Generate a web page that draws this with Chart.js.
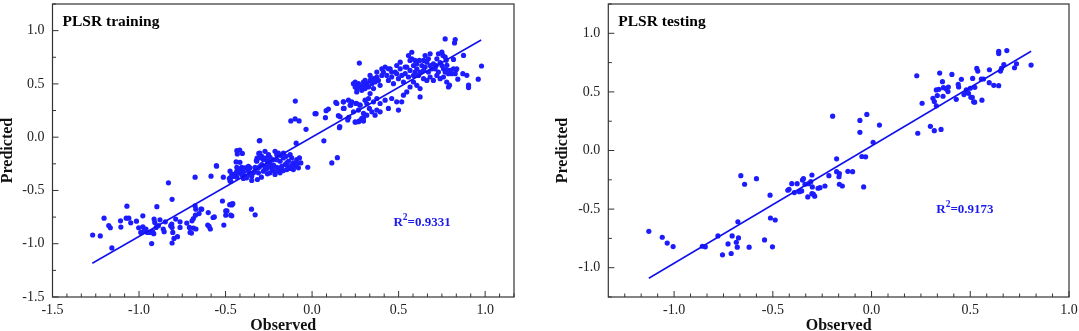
<!DOCTYPE html>
<html>
<head>
<meta charset="utf-8">
<title>PLSR training / testing</title>
<script src="https://cdn.jsdelivr.net/npm/chart.js@4.4.1/dist/chart.umd.min.js"></script>
<style>
  html, body { margin: 0; padding: 0; background: #fff; }
  #wrap { position: relative; width: 1079px; height: 331px; }
  .panel { position: absolute; top: 0; height: 331px; }
  #p1 { left: 0; width: 530px; }
  #p2 { left: 530px; width: 549px; }
</style>
</head>
<body>
<div id="wrap">
  <div class="panel" id="p1"><canvas id="trainChart"></canvas></div>
  <div class="panel" id="p2"><canvas id="testChart"></canvas></div>
</div>
<script>
// ---- data: [observed, predicted] ----
const trainPoints = [
  // low cluster
  [-1.268,-0.918],[-1.224,-0.927],[-1.202,-0.76],[-1.175,-0.829],[-1.166,-0.85],[-1.157,-1.039],
  [-1.107,-0.785],[-1.105,-0.844],[-1.07,-0.648],[-1.074,-0.76],[-1.059,-0.76],[-1.048,-0.804],
  [-1.015,-0.788],[-1.002,-0.85],[-0.99,-0.894],[-0.978,-0.738],[-0.978,-0.841],[-0.971,-0.878],
  [-0.96,-0.862],[-0.952,-0.894],[-0.927,-0.999],[-0.936,-0.894],[-0.921,-0.887],[-0.915,-0.906],
  [-0.913,-0.769],[-0.909,-0.8],[-0.897,-0.652],[-0.901,-0.847],[-0.888,-0.831],[-0.879,-0.776],
  [-0.86,-0.862],[-0.855,-0.887],[-0.848,-0.794],[-0.83,-0.428],[-0.817,-0.831],[-0.811,-0.816],
  [-0.809,-0.583],[-0.809,-0.847],[-0.809,-0.993],[-0.805,-0.894],[-0.798,-0.95],[-0.788,-0.769],
  [-0.778,-0.934],[-0.763,-0.794],[-0.763,-0.847],[-0.724,-0.806],[-0.709,-0.847],[-0.705,-0.894],
  [-0.697,-0.9],[-0.694,-0.785],[-0.686,-0.763],[-0.686,-0.853],[-0.676,-0.375],[-0.676,-0.645],
  [-0.672,-0.676],[-0.674,-0.732],[-0.671,-0.862],[-0.653,-0.717],[-0.642,-0.676],[-0.603,-0.825],
  [-0.595,-0.838],[-0.588,-0.862],[-0.572,-0.754],[-0.518,-0.599],[-0.51,-0.825],[-0.499,-0.692],
  [-0.499,-0.732],[-0.476,-0.633],[-0.467,-0.627],[-0.47,-0.732],[-0.474,-0.412],[-0.474,-0.382],
  [-0.513,-0.375],[-0.584,-0.366],[-0.35,-0.676],[-0.329,-0.729],[-0.552,-0.273],[-0.6,-0.708],
  [-0.565,-0.748],[-0.638,-0.676],[-0.464,-0.636],[-0.458,-0.624],[-0.492,-0.692],[-0.464,-0.738],
  // middle cluster
  [-0.304,-0.195],[-0.291,-0.257],[-0.272,-0.273],[-0.258,-0.226],[-0.243,-0.242],[-0.227,-0.211],
  [-0.204,-0.164],[-0.195,-0.149],[-0.185,-0.226],[-0.166,-0.195],[-0.15,-0.18],[-0.137,-0.226],
  [-0.127,-0.164],[-0.118,-0.195],[-0.108,-0.242],[-0.098,-0.273],[-0.089,-0.211],[-0.073,-0.195],
  [-0.065,-0.242],[-0.079,-0.288],[-0.108,-0.304],[-0.146,-0.304],[-0.185,-0.335],[-0.214,-0.35],
  [-0.258,-0.344],[-0.281,-0.319],[-0.31,-0.335],[-0.339,-0.335],[-0.368,-0.319],[-0.397,-0.326],
  [-0.426,-0.335],[-0.435,-0.319],[-0.445,-0.344],[-0.455,-0.369],[-0.378,-0.381],[-0.349,-0.366],
  [-0.316,-0.397],[-0.293,-0.375],[-0.243,-0.335],[-0.407,-0.35],[-0.416,-0.304],[-0.387,-0.288],
  [-0.358,-0.288],[-0.329,-0.282],[-0.3,-0.273],[-0.272,-0.304],[-0.233,-0.295],[-0.204,-0.282],
  [-0.175,-0.273],[-0.156,-0.257],[-0.137,-0.282],[-0.387,-0.366],[-0.358,-0.35],[-0.329,-0.319],
  [-0.368,-0.273],[-0.406,-0.282],[-0.426,-0.295],[-0.262,-0.295],[-0.223,-0.313],[-0.195,-0.319],
  [-0.166,-0.313],[-0.474,-0.319],[-0.464,-0.35],[-0.435,-0.375],[-0.397,-0.388],[-0.349,-0.406],
  [-0.31,-0.288],[-0.252,-0.273],[-0.223,-0.263],[-0.185,-0.288],[-0.146,-0.242],[-0.118,-0.264],
  [-0.089,-0.251],[-0.185,-0.17],[-0.166,-0.149],[-0.204,-0.211],[-0.243,-0.189],[-0.281,-0.211],
  [-0.32,-0.226],[-0.291,-0.18],[-0.252,-0.164],[-0.214,-0.133],[-0.272,-0.133],
  [-0.435,-0.127],[-0.432,-0.158],[-0.417,-0.236],[-0.305,-0.034],[-0.302,-0.149],[-0.318,-0.196],
  [-0.322,-0.22],[-0.27,-0.196],[-0.553,-0.266],[-0.478,-0.388],[-0.47,-0.413],[-0.439,-0.232],
  [-0.435,-0.282],[-0.418,-0.121],[-0.403,-0.152],[-0.302,-0.031],[-0.308,-0.152],
  [-0.092,-0.056],[0.068,-0.034],[0.146,-0.192],[0.114,-0.242],[-0.025,-0.282],[-0.127,-0.294],
  // transition
  [-0.097,0.339],[-0.123,0.153],[-0.098,0.171],[-0.075,0.153],[-0.035,0.074],[0.017,0.221],
  [0.023,0.221],[0.081,0.249],[0.094,0.264],[0.077,0.183],[0.137,0.326],[0.152,0.202],
  [0.16,0.1],[0.181,0.332],[0.185,0.27],[0.206,0.162],[0.212,0.186],[0.25,0.14],[0.273,0.153],
  [0.297,0.177],[0.224,0.302],[0.253,0.317],[0.277,0.302],
  // upper cluster
  [0.74,0.70],[0.717,0.673],[0.721,0.735],[0.701,0.689],[0.692,0.642],[0.682,0.673],[0.672,0.611],
  [0.663,0.704],[0.653,0.658],[0.644,0.627],[0.634,0.673],[0.624,0.611],[0.62,0.72],[0.615,0.58],
  [0.605,0.642],[0.595,0.611],[0.586,0.673],[0.576,0.735],[0.566,0.72],[0.576,0.797],[0.586,0.58],
  [0.566,0.627],[0.557,0.565],[0.547,0.658],[0.538,0.596],[0.528,0.518],[0.518,0.58],[0.509,0.642],
  [0.499,0.549],[0.489,0.673],[0.48,0.611],[0.47,0.502],[0.46,0.565],[0.451,0.642],[0.441,0.533],
  [0.432,0.58],[0.422,0.658],[0.412,0.611],[0.403,0.642],[0.393,0.487],[0.383,0.533],[0.374,0.565],
  [0.364,0.518],[0.355,0.456],[0.345,0.502],[0.335,0.533],[0.326,0.471],[0.316,0.502],[0.306,0.456],
  [0.297,0.487],[0.287,0.44],[0.277,0.471],[0.268,0.502],[0.258,0.456],[0.249,0.518],[0.335,0.409],
  [0.326,0.363],[0.316,0.316],[0.306,0.347],[0.331,0.27],[0.355,0.332],[0.374,0.363],[0.393,0.316],
  [0.422,0.347],[0.441,0.27],[0.46,0.363],[0.489,0.332],[0.499,0.254],[0.518,0.332],[0.528,0.394],
  [0.547,0.425],[0.566,0.471],[0.586,0.518],[0.605,0.487],[0.624,0.456],[0.644,0.549],[0.663,0.533],
  [0.682,0.565],[0.701,0.533],[0.721,0.58],[0.74,0.549],[0.759,0.565],[0.778,0.518],[0.788,0.471],
  [0.624,0.378],[0.22,0.3],[0.239,0.238],[0.268,0.254],[0.277,0.3],[0.297,0.223],[0.287,0.176],
  [0.268,0.145],[0.249,0.145],[0.297,0.151],[0.316,0.207],[0.345,0.238],[0.374,0.254],[0.364,0.207],
  [0.393,0.238],[0.21,0.347],[0.181,0.332],[0.143,0.316],[0.181,0.27],[0.162,0.192],[0.158,0.089],
  [0.229,0.332],[0.258,0.316],[0.239,0.502],[0.249,0.471],[0.258,0.425],[0.297,0.518],[0.306,0.533],
  [0.335,0.58],[0.355,0.549],[0.374,0.611],[0.403,0.58],[0.441,0.642],[0.46,0.611],[0.489,0.596],
  [0.509,0.704],[0.538,0.658],[0.557,0.766],[0.595,0.72],[0.605,0.689],[0.644,0.72],[0.653,0.766],
  [0.672,0.735],[0.682,0.782],[0.711,0.642],[0.73,0.611],[0.75,0.673],[0.759,0.642],[0.769,0.611],
  [0.798,0.627],[0.807,0.596],[0.817,0.642],[0.836,0.642],
  [0.273,0.696],[0.769,0.922],[0.827,0.916],[0.823,0.885],[0.979,0.668],[0.96,0.544],[0.904,0.488],
  [0.904,0.466],[0.894,0.581],[0.871,0.596],[0.875,0.767],[0.842,0.544],[0.817,0.73],[0.832,0.633],
  [0.827,0.596],[0.794,0.488],[0.788,0.596],[0.782,0.628],[0.779,0.674],[0.775,0.721],[0.769,0.751],
  [0.756,0.767],[0.75,0.798],[0.73,0.782]
];

const testPoints = [
  [-1.128,-0.69],[-1.06,-0.74],[-1.035,-0.79],[-1.005,-0.82],[-0.857,-0.817],[-0.842,-0.822],
  [-0.778,-0.729],[-0.755,-0.89],[-0.711,-0.879],[-0.706,-0.729],[-0.727,-0.797],[-0.685,-0.783],
  [-0.68,-0.825],[-0.674,-0.746],[-0.677,-0.608],[-0.662,-0.215],[-0.643,-0.288],[-0.583,-0.24],
  [-0.62,-0.825],[-0.542,-0.763],[-0.502,-0.822],[-0.514,-0.381],[-0.512,-0.576],[-0.488,-0.593],
  [-0.424,-0.339],[-0.418,-0.331],[-0.404,-0.283],[-0.391,-0.359],[-0.377,-0.283],[-0.366,-0.351],
  [-0.354,-0.345],[-0.35,-0.252],[-0.345,-0.24],[-0.337,-0.288],[-0.323,-0.396],[-0.32,-0.283],
  [-0.308,-0.266],[-0.302,-0.209],[-0.3,-0.311],[-0.302,-0.368],[-0.295,-0.373],[-0.288,-0.39],
  [-0.271,-0.322],[-0.261,-0.317],[-0.236,-0.303],[-0.216,-0.215],[-0.177,-0.071],[-0.177,-0.181],
  [-0.163,-0.198],[-0.165,-0.224],[-0.163,-0.288],[-0.148,-0.303],[-0.12,-0.178],[-0.096,-0.181],
  [-0.059,0.155],[-0.049,-0.051],[-0.03,-0.054],[-0.04,-0.311],[0.008,0.07],
  [-0.197,0.293],[-0.059,0.257],[-0.024,0.308],[0.04,0.217],
  [0.229,0.638],[0.256,0.403],[0.234,0.147],[0.298,0.206],[0.318,0.169],[0.352,0.18],
  [0.345,0.661],[0.359,0.587],[0.407,0.649],[0.328,0.517],[0.341,0.522],[0.364,0.536],
  [0.379,0.525],[0.389,0.542],[0.387,0.503],[0.311,0.446],[0.318,0.418],[0.333,0.469],
  [0.362,0.463],[0.328,0.381],[0.429,0.437],[0.439,0.564],[0.441,0.542],[0.455,0.607],
  [0.468,0.477],[0.48,0.517],[0.485,0.497],[0.491,0.488],[0.5,0.531],[0.512,0.615],
  [0.523,0.539],[0.503,0.454],[0.51,0.454],[0.517,0.415],[0.522,0.412],[0.559,0.429],
  [0.533,0.7],[0.538,0.678],[0.556,0.61],[0.567,0.61],[0.597,0.689],[0.596,0.579],
  [0.619,0.556],[0.644,0.553],[0.644,0.847],[0.644,0.827],[0.685,0.853],[0.653,0.678],
  [0.658,0.7],[0.67,0.734],[0.724,0.706],[0.734,0.74],[0.808,0.729]
];

// fitted line end points
const trainLine = [[-1.27, -1.183], [0.977, 0.912]];
const testLine = [[-1.128, -1.09], [0.808, 0.847]];

// tick labels
const trainXTicks = [-1.5, -1.0, -0.5, 0.0, 0.5, 1.0];
const trainYTicks = [-1.5, -1.0, -0.5, 0.0, 0.5, 1.0];
const testXTicks = [-1.0, -0.5, 0.0, 0.5, 1.0];
const testYTicks = [-1.0, -0.5, 0.0, 0.5, 1.0];

const SERIF = "'Liberation Serif', 'Times New Roman', serif";
const DOT = "#1c1cff";
const LINE = "#1010ee";

// 边框 + 内向刻度 + 面板标题 + R²
const framePlugin = {
  id: "frame",
  afterDraw(chart, args, opts) {
    const { ctx, chartArea: a } = chart;
    const x = chart.scales.x, y = chart.scales.y;
    ctx.save();
    ctx.strokeStyle = "#333";
    ctx.lineWidth = 1.2;
    ctx.strokeRect(a.left, a.top, a.right - a.left, a.bottom - a.top);

    ctx.lineWidth = 1;
    ctx.beginPath();
    const eps = 1e-6;
    const tickSet = (scale, majors, nMinor, draw) => {
      const step = 0.5 / nMinor;
      majors.forEach((v) => draw(scale.getPixelForValue(v), 6));
      for (let v = majors[0] - step; v >= scale.min - eps; v -= step) draw(scale.getPixelForValue(v), 3.5);
      for (let i = 0; i < majors.length; i++) {
        for (let k = 1; k < nMinor; k++) {
          const v = majors[i] + k * step;
          if (v <= scale.max + eps) draw(scale.getPixelForValue(v), 3.5);
        }
      }
      const last = majors[majors.length - 1];
      for (let v = last + nMinor * step; v <= scale.max + eps; v += step) draw(scale.getPixelForValue(v), 3.5);
    };
    tickSet(x, opts.xTicks, 6, (px, len) => { ctx.moveTo(px, a.bottom); ctx.lineTo(px, a.bottom - len); });
    tickSet(y, opts.yTicks, 2, (py, len) => { ctx.moveTo(a.left, py); ctx.lineTo(a.left + len, py); });
    ctx.stroke();

    // panel title
    ctx.fillStyle = "#000";
    ctx.font = "bold 15.5px " + SERIF;
    ctx.textBaseline = "alphabetic";
    ctx.textAlign = "left";
    ctx.fillText(opts.title, a.left + 10, a.top + 21.5);

    // R² label
    const rx = x.getPixelForValue(opts.r2At[0]);
    const ry = y.getPixelForValue(opts.r2At[1]);
    ctx.fillStyle = "#1a1aee";
    ctx.font = "bold 13px " + SERIF;
    ctx.fillText("R", rx, ry);
    const w1 = ctx.measureText("R").width;
    ctx.font = "bold 9.5px " + SERIF;
    ctx.fillText("2", rx + w1, ry - 6);
    const w2 = ctx.measureText("2").width;
    ctx.font = "bold 13px " + SERIF;
    ctx.fillText("=" + opts.r2, rx + w1 + w2, ry);
    ctx.restore();
  },
};

function makeChart(id, cfg) {
  const ctx = document.getElementById(id).getContext("2d");
  return new Chart(ctx, {
    type: "scatter",
    data: {
      datasets: [
        {
          label: "points",
          data: cfg.points.map((p) => ({ x: p[0], y: p[1] })),
          backgroundColor: DOT,
          borderWidth: 0,
          pointRadius: 2.6,
          order: 2,
        },
        {
          label: "fit",
          type: "line",
          data: cfg.line.map((p) => ({ x: p[0], y: p[1] })),
          borderColor: LINE,
          borderWidth: 1.5,
          pointRadius: 0,
          fill: false,
          order: 1,
        },
      ],
    },
    options: {
      responsive: true,
      maintainAspectRatio: false,
      animation: false,
      layout: { padding: { left: 0, right: cfg.padRight, top: 2, bottom: 0 } },
      plugins: {
        legend: { display: false },
        tooltip: { enabled: false },
        frame: {
          xTicks: cfg.xTicks,
          yTicks: cfg.yTicks,
          title: cfg.title,
          r2: cfg.r2,
          r2At: cfg.r2At,
        },
      },
      scales: {
        x: {
          type: "linear",
          min: cfg.xMin,
          max: cfg.xMax,
          afterBuildTicks: (s) => { s.ticks = cfg.xTicks.map((v) => ({ value: v })); },
          afterFit: (s) => { s.height = 34; s.paddingLeft = 0; s.paddingRight = 0; },
          grid: { display: false, drawTicks: false },
          border: { display: false },
          ticks: {
            callback: (v) => Number(v).toFixed(1),
            font: { family: SERIF, size: 14 },
            color: "#222",
            padding: 5,
            maxRotation: 0,
            autoSkip: false,
          },
          title: {
            display: true,
            text: "Observed",
            font: { family: SERIF, size: 16, weight: "bold", lineHeight: 1 },
            color: "#111",
            padding: { top: 0, bottom: -2.5 },
          },
        },
        y: {
          type: "linear",
          min: cfg.yMin,
          max: cfg.yMax,
          afterBuildTicks: (s) => { s.ticks = cfg.yTicks.map((v) => ({ value: v })); },
          afterFit: (s) => { s.width = cfg.yWidth; s.paddingTop = 0; s.paddingBottom = 0; },
          grid: { display: false, drawTicks: false },
          border: { display: false },
          ticks: {
            callback: (v) => Number(v).toFixed(1),
            font: { family: SERIF, size: 14 },
            color: "#222",
            padding: 8,
            autoSkip: false,
          },
          title: {
            display: true,
            text: "Predicted",
            font: { family: SERIF, size: 16, weight: "bold", lineHeight: 1 },
            color: "#111",
            padding: { top: cfg.yTitlePad, bottom: 0 },
          },
        },
      },
    },
    plugins: [framePlugin],
  });
}

// 训练集
makeChart("trainChart", {
  points: trainPoints,
  line: trainLine,
  xTicks: trainXTicks,
  yTicks: trainYTicks,
  xMin: -1.5, xMax: 1.1667,
  yMin: -1.5, yMax: 1.25,
  yWidth: 52.5,
  yTitlePad: 0,
  padRight: 16,
  title: "PLSR training",
  r2: "0.9331",
  r2At: [0.47, -0.83],
});

// 测试集
makeChart("testChart", {
  points: testPoints,
  line: testLine,
  xTicks: testXTicks,
  yTicks: testYTicks,
  xMin: -1.3333, xMax: 1.0,
  yMin: -1.25, yMax: 1.25,
  yWidth: 78.3,
  yTitlePad: 25,
  padRight: 10,
  title: "PLSR testing",
  r2: "0.9173",
  r2At: [0.328, -0.537],
});
</script>
</body>
</html>
